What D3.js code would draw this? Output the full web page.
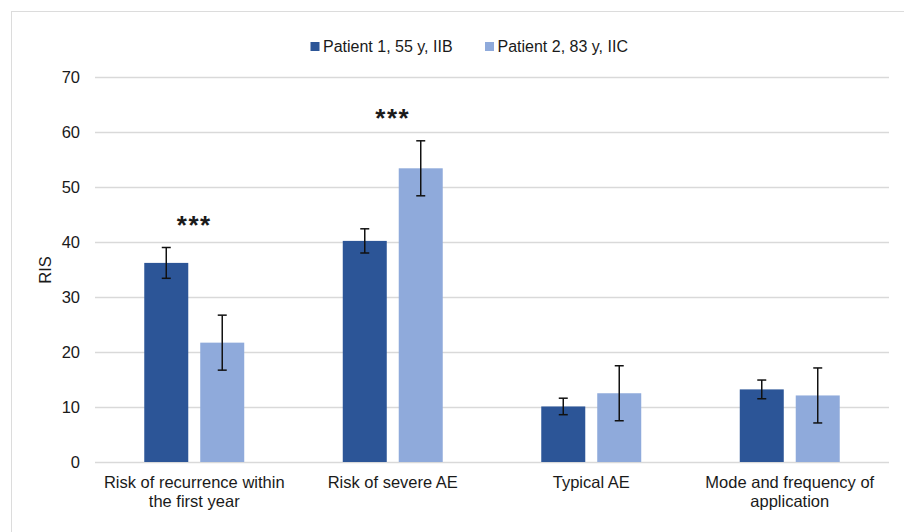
<!DOCTYPE html>
<html lang="en">
<head>
<meta charset="utf-8">
<title>RIS by patient</title>
<script src="https://d3js.org/d3.v7.min.js"></script>
<style>
  body { margin: 0; background: #fff; }
  text { font-family: "Liberation Sans", Arial, sans-serif; fill: #1a1a1a; }
</style>
</head>
<body>
<div id="chart"></div>
<script>
// data
var categories = ["Risk of recurrence within the first year", "Risk of severe AE", "Typical AE", "Mode and frequency of application"];
var series = ["Patient 1, 55 y, IIB", "Patient 2, 83 y, IIC"];
var patient1 = [36.2, 40.2, 10.1, 13.2];
var patient2 = [21.7, 53.4, 12.5, 12.1];
var patient1Err = [2.8, 2.2, 1.5, 1.7];
var patient2Err = [5.0, 5.0, 5.0, 5.0];
var stars = ["***", "***", "", ""];
var yTicks = [0, 10, 20, 30, 40, 50, 60, 70];
var colors = ["#2c5597", "#8faadb"];

var W = 904, H = 532;
var margin = { top: 77, right: 15, bottom: 70, left: 95 };

var svg = d3.select("#chart").append("svg")
  .attr("width", W).attr("height", H);

// outer frame
svg.append("rect")
  .attr("x", 11.5).attr("y", 11.5)
  .attr("width", 900).attr("height", 530)
  .attr("fill", "none").attr("stroke", "#dcdcdc").attr("stroke-width", 1);

var x = d3.scaleBand().domain(categories).range([margin.left, W - margin.right]);
var xs = d3.scaleBand().domain(series).range([0, x.bandwidth()])
  .paddingInner(0.214).paddingOuter(0.88);
var y = d3.scaleLinear().domain([0, 70]).range([H - margin.bottom, margin.top]);

// gridlines
svg.append("g").selectAll("line").data(yTicks).enter().append("line")
  .attr("x1", margin.left).attr("x2", W - margin.right)
  .attr("y1", d => Math.round(y(d)) + 0.5).attr("y2", d => Math.round(y(d)) + 0.5)
  .attr("stroke", "#d9d9d9").attr("stroke-width", 1.3);

// y axis labels
var yAxis = svg.append("g")
  .attr("transform", "translate(" + (margin.left - 6) + ",0)")
  .call(d3.axisLeft(y).tickValues(yTicks).tickSize(0).tickPadding(9));
yAxis.select(".domain").remove();
yAxis.selectAll("text").style("font-size", "16.5px").attr("fill", "#1a1a1a")
  .style("font-family", "Liberation Sans, Arial, sans-serif");

svg.append("text")
  .attr("transform", "translate(51,270) rotate(-90)")
  .attr("text-anchor", "middle")
  .style("font-size", "16.5px")
  .text("RIS");

// bars
var rows = categories.map(function (c, i) {
  return {
    cat: c,
    vals: [
      { s: series[0], v: patient1[i], e: patient1Err[i] },
      { s: series[1], v: patient2[i], e: patient2Err[i] }
    ]
  };
});

var groups = svg.append("g").selectAll("g").data(rows).enter().append("g")
  .attr("transform", d => "translate(" + x(d.cat) + ",0)");

groups.selectAll("rect").data(d => d.vals).enter().append("rect")
  .attr("x", d => xs(d.s))
  .attr("width", xs.bandwidth())
  .attr("y", d => y(d.v))
  .attr("height", d => y(0) - y(d.v))
  .attr("fill", (d, i) => colors[i]);

// error bars
var eb = groups.selectAll("g.err").data(d => d.vals).enter().append("g").attr("class", "err");
var cap = 4.5;
eb.append("line")
  .attr("x1", d => xs(d.s) + xs.bandwidth() / 2).attr("x2", d => xs(d.s) + xs.bandwidth() / 2)
  .attr("y1", d => y(d.v + d.e)).attr("y2", d => y(d.v - d.e));
eb.append("line")
  .attr("x1", d => xs(d.s) + xs.bandwidth() / 2 - cap).attr("x2", d => xs(d.s) + xs.bandwidth() / 2 + cap)
  .attr("y1", d => y(d.v + d.e)).attr("y2", d => y(d.v + d.e));
eb.append("line")
  .attr("x1", d => xs(d.s) + xs.bandwidth() / 2 - cap).attr("x2", d => xs(d.s) + xs.bandwidth() / 2 + cap)
  .attr("y1", d => y(d.v - d.e)).attr("y2", d => y(d.v - d.e));
eb.selectAll("line").attr("stroke", "#111").attr("stroke-width", 1.5);

// significance stars above the highest error bar
groups.append("text")
  .attr("x", x.bandwidth() / 2)
  .attr("y", d => y(d3.max(d.vals, v => v.v + v.e)) - 14)
  .attr("text-anchor", "middle")
  .style("font-size", "26px").style("font-weight", "bold").style("letter-spacing", "1.5px")
  .text((d, i) => stars[i]);

// category labels, wrapped
groups.append("text")
  .attr("x", x.bandwidth() / 2)
  .attr("y", y(0) + 26)
  .attr("text-anchor", "middle")
  .style("font-size", "16.5px")
  .each(function (d) {
    var t = d3.select(this), words = d.cat.split(" "), line = [];
    var tspan = t.append("tspan").attr("x", x.bandwidth() / 2).attr("dy", 0);
    words.forEach(function (w) {
      line.push(w);
      tspan.text(line.join(" "));
      if (tspan.node().getComputedTextLength() > x.bandwidth() - 6 && line.length > 1) {
        line.pop();
        tspan.text(line.join(" "));
        line = [w];
        tspan = t.append("tspan").attr("x", x.bandwidth() / 2).attr("dy", 19).text(w);
      }
    });
  });

// legend
var lx = [310.5, 485];
var legend = svg.append("g").selectAll("g").data(series).enter().append("g")
  .attr("transform", (d, i) => "translate(" + lx[i] + ",42)");
legend.append("rect").attr("width", 9).attr("height", 9).attr("fill", (d, i) => colors[i]);
legend.append("text").attr("x", 12.5).attr("y", 9.5)
  .style("font-size", "16px").text(d => d);
</script>
</body>
</html>
